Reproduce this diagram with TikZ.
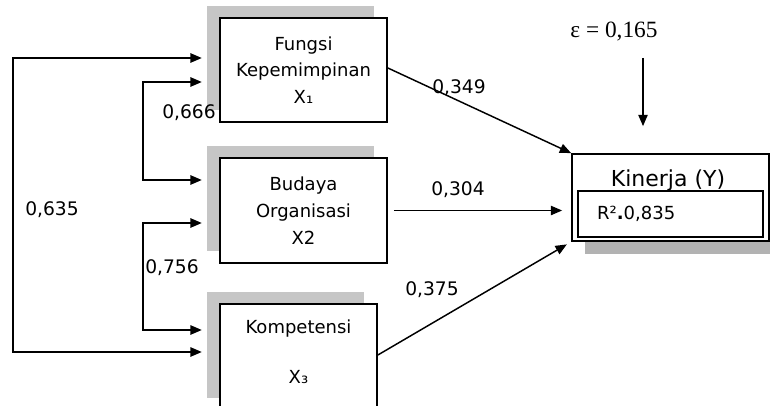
\documentclass[tikz,border=0pt]{standalone}
\usepackage{fontspec}
\setmainfont{DejaVu Sans}
\newfontfamily\epsfont{Liberation Serif}
\usetikzlibrary{arrows.meta,shadows}
\begin{document}
\begin{tikzpicture}[x=0.75pt,y=-0.75pt,
  tip/.tip={Triangle[length=8.5pt,width=7pt]},
  arr/.style={-tip, line width=1.1pt},
  arrtwo/.style={tip-tip, line width=1.1pt},
  box/.style={draw, line width=1.3pt, fill=white, align=center, inner sep=0pt,
    font=\fontsize{13.5}{20}\selectfont},
  lshadow/.style={general shadow={fill=gray!45, draw=none, shadow xshift=-9.75pt, shadow yshift=9pt}},
  rshadow/.style={general shadow={fill=gray!60, draw=none, shadow xshift=9.75pt, shadow yshift=-9.75pt}},
  lab/.style={inner sep=0pt, font=\fontsize{14}{16}\selectfont}
]
\clip (0,0) rectangle (770,406);
\fill[white] (0,0) rectangle (770,406);

% boxes
\node[box, lshadow, minimum width=125.25pt, minimum height=78pt] (f) at (303.5,70)
  {Fungsi\\Kepemimpinan\\X₁};
\node[box, lshadow, minimum width=125.25pt, minimum height=78.75pt] (b) at (303.5,210.5)
  {Budaya\\Organisasi\\X2};
\node[box, lshadow, minimum width=117.75pt, minimum height=79.5pt] (k) at (298.5,357) {};
\node[align=center, inner sep=0pt, font=\fontsize{13.5}{37.5}\selectfont] (kt) at (298.5,352)
  {Kompetensi\\X₃};

\node[box, rshadow, minimum width=147.75pt, minimum height=65.25pt] (y) at (670.5,197.5) {};
\node[inner sep=0pt, font=\fontsize{16.5}{18}\selectfont] (yt) at (668,180) {Kinerja (Y)};
\node[draw, line width=1.3pt, fill=white, text width=110pt, align=left, inner xsep=14.4pt,
  inner ysep=0pt, minimum height=34.5pt, font=\fontsize{13.5}{15}\selectfont] (r) at (670.5,214)
  {R²{\bfseries .}0,835};

% epsilon
\node[inner sep=0pt, font=\epsfont\fontsize{17.5}{19}\selectfont] (e) at (614,32) {ε = 0,165};
\coordinate (ea) at (643,58);
\draw[arr, shorten >=20.25pt] (ea) -- (ea |- y.north);

% correlations on the left
\coordinate (o1) at (13,58);
\coordinate (o2) at (13,352);
\draw[arrtwo, shorten <=13pt, shorten >=13pt] (o1 -| f.west) -- (o1) -- (o2) -- (o2 -| k.west);
\coordinate (i1) at (143,82);
\coordinate (i2) at (143,180);
\draw[arrtwo, shorten <=13pt, shorten >=13pt] (i1 -| f.west) -- (i1) -- (i2) -- (i2 -| b.west);
\coordinate (i3) at (143,223);
\coordinate (i4) at (143,330);
\draw[arrtwo, shorten <=13pt, shorten >=13pt] (i3 -| b.west) -- (i3) -- (i4) -- (i4 -| k.west);

% paths to Y
\draw[arr] ([yshift=1.5pt]f.east) -- (y.north west);
\draw[arr, shorten <=4.5pt, shorten >=6.75pt] (b.east) -- (b.east -| y.west);
\draw[arr, shorten >=3.75pt] ([yshift=1.5pt]k.east) -- (y.south west);

% labels
\node[lab] (l349) at (459,88) {0,349};
\node[lab] (l304) at (458,190) {0,304};
\node[lab] (l375) at (432,290) {0,375};
\node[lab] (l666) at (189,113) {0,666};
\node[lab] (l635) at (52,210) {0,635};
\node[lab] (l756) at (172,268) {0,756};
\end{tikzpicture}
\end{document}
